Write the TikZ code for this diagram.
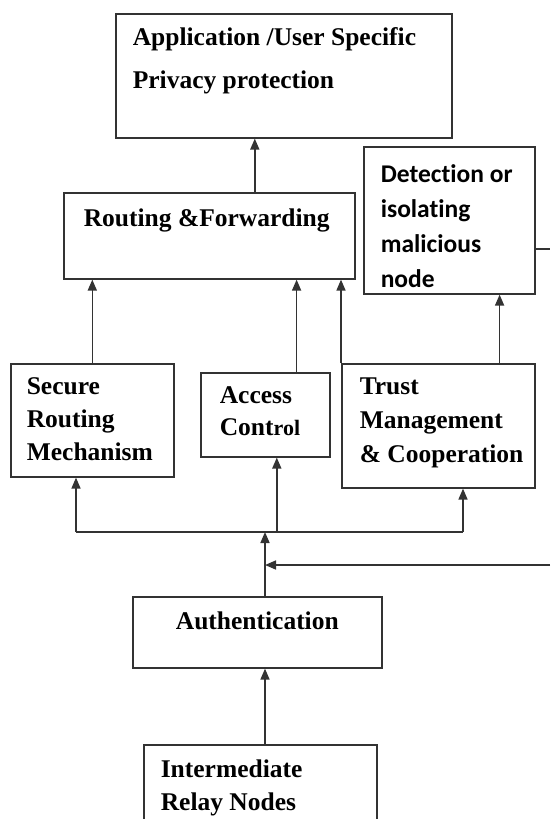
\documentclass[tikz,border=0pt]{standalone}
\usepackage{fontspec}
\setmainfont{Liberation Serif}
\newfontfamily\calibri[Ligatures=NoCommon]{Carlito}
\usetikzlibrary{positioning,arrows.meta}

\begin{document}
\begin{tikzpicture}[x=1pt,y=-1pt,line width=1.6pt,draw=black!80,
    box/.style={draw,inner sep=0pt,anchor=north west},
    txt/.style={inner sep=0pt,align=left,font=\bfseries\fontsize{25.5}{33}\selectfont},
    arr/.style={-{Triangle[length=11pt,width=9pt]}}]
\useasboundingbox (0,0) rectangle (550,819);
% boxes
\node[box,minimum width=336pt,minimum height=124pt] (app) at (115,13) {};
\node[box,minimum width=291pt,minimum height=86pt] (route) at (63,192) {};
\node[box,minimum width=171pt,minimum height=147pt] (detect) at (363,146) {};
\node[box,minimum width=163pt,minimum height=113pt] (secure) at (10,363) {};
\node[box,minimum width=129pt,minimum height=84pt] (access) at (200,372) {};
\node[box,minimum width=193pt,minimum height=124pt] (trust) at (341,363) {};
\node[box,minimum width=249pt,minimum height=71pt] (auth) at (132,596) {};
\node[box,minimum width=233pt,minimum height=110pt] (relay) at (143,744) {};
% texts
\node[txt,font=\bfseries\fontsize{25.5}{43}\selectfont,below right=14pt and 17pt of app.north west] (appT) {Application /User Specific\\Privacy protection};
\node[txt,below right=16pt and 20pt of route.north west] (routeT) {Routing \&Forwarding};
\node[txt,font=\calibri\bfseries\fontsize{25.5}{35}\selectfont,below right=18pt and 17pt of detect.north west] (detectT) {Detection or\\isolating\\malicious\\node};
\node[txt,below right=14pt and 16pt of secure.north west] (secureT) {Secure\\Routing\\Mechanism};
\node[txt,font=\bfseries\fontsize{25.5}{32}\selectfont,below right=14pt and 19pt of access.north west] (accessT) {Access\\Cont{\fontsize{22}{32}\selectfont rol}};
\node[txt,font=\bfseries\fontsize{25.5}{34}\selectfont,below right=14pt and 18pt of trust.north west] (trustT) {Trust\\Management\\\& Cooperation};
\node[txt,below=15pt of auth.north] (authT) {Authentication};
\node[txt,below right=15pt and 17pt of relay.north west] (relayT) {Intermediate\\Relay Nodes};
% free ends and junctions
\coordinate (spine) at (265,532);
\coordinate (busL) at (76,532);
\coordinate (busR) at (463,532);
\coordinate (edgeA) at (550,249);
\coordinate (edgeB) at (550,565);
% connectors
\draw[arr] ([xshift=45.5pt]route.north) -- ([xshift=45.5pt]route.north |- app.south);
\draw[arr] (secure.north) -- (secure.north |- route.south);
\draw[arr] ([xshift=-34pt]access.north east) -- ([xshift=-34pt]access.north east |- route.south);
\draw[arr] (trust.north west) -- (trust.north west |- route.south);
\draw[arr] ([xshift=-36pt]trust.north east) -- ([xshift=-36pt]trust.north east |- detect.south);
\draw (edgeA -| detect.east) -- (edgeA);
\draw (busL) -- (busR);
\draw[arr] (busL) -- (busL |- secure.south);
\draw[arr] ([xshift=11.5pt]access.south |- busL) -- ([xshift=11.5pt]access.south);
\draw[arr] (busR) -- (busR |- trust.south);
\draw[arr] (spine |- auth.north) -- (spine);
\draw[arr] (edgeB) -- (edgeB -| spine);
\draw[arr] (spine |- relay.north) -- (spine |- auth.south);
\end{tikzpicture}
\end{document}
